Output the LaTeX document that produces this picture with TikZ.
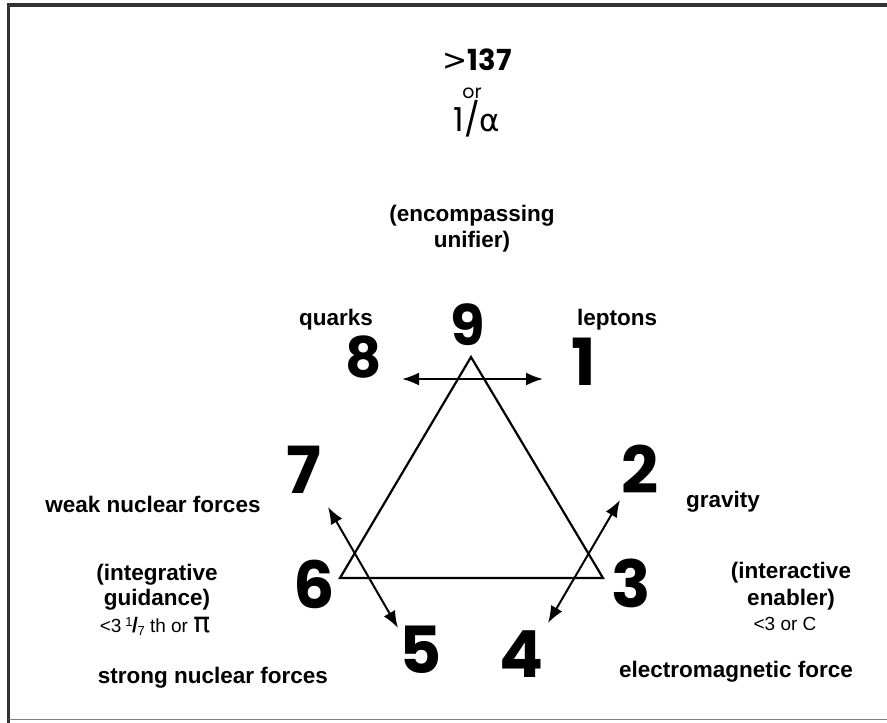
\documentclass[tikz,border=0pt]{standalone}
\usepackage{fontspec}
\setmainfont{Liberation Sans}
\newfontfamily\digfont{Poppins}
\newfontfamily\dvfont{DejaVu Sans}
\usetikzlibrary{arrows.meta}
\tikzset{
  lbl/.style={inner sep=0pt, anchor=base, font=\bfseries\fontsize{22.5}{26}\selectfont},
  small/.style={inner sep=0pt, anchor=base, font=\fontsize{19}{21}\selectfont},
  bigdig/.style={inner sep=0pt, anchor=base, font=\digfont\bfseries\fontsize{65}{65}\selectfont},
  middig/.style={inner sep=0pt, anchor=base, font=\digfont\bfseries\fontsize{56}{56}\selectfont},
  conn/.style={line width=2pt, {Latex[length=17pt,width=13pt]}-{Latex[length=17pt,width=13pt]}},
  tri/.style={line width=2.2pt, line join=miter},
  frameline/.style={line width=3.5pt, color=black!80},
}
\begin{document}
\begin{tikzpicture}[x=1pt,y=-1pt]
\useasboundingbox[fill=white] (0,0) rectangle (887,723);
% frame
\draw[frameline] (8.5,723) -- (8.5,5) -- (887,5);
\draw[gray, line width=1pt] (8.5,719.5) -- (887,719.5);

% top texts
\node[inner sep=0pt, anchor=base, font=\digfont\bfseries\fontsize{29}{29}\selectfont] (t137) at (477,70) {{\dvfont\mdseries\fontsize{30}{30}\selectfont >}137};
\node[inner sep=0pt, anchor=base, font=\digfont\fontsize{19}{19}\selectfont] (tor) at (472,98) {or};
\node[inner sep=0pt, anchor=base, font=\digfont\fontsize{33}{33}\selectfont] (talpha) at (477,131) {1/{\dvfont\fontsize{31}{31}\selectfont α}};

\node[lbl] (enc1) at (472,221) {(encompassing};
\node[lbl] (enc2) at (472,247) {unifier)};

% digits
\node[middig] (d9) at (468,345) {9};
\node[middig] (d8) at (364,377) {8};
\node[bigdig] (d1) at (584,385) {1};
\node[bigdig] (d7) at (304,493) {7};
\node[bigdig] (d2) at (640,493) {2};
\node[bigdig] (d6) at (314,608) {6};
\node[bigdig] (d3) at (631,607) {3};
\node[bigdig] (d5) at (421,673) {5};
\node[bigdig] (d4) at (521,677) {4};

% labels
\node[lbl] (quarks) at (336,325) {quarks};
\node[lbl] (leptons) at (617,325) {leptons};
\node[lbl] (weak) at (153,512) {weak nuclear forces};
\node[lbl] (grav) at (723,507) {gravity};
\node[lbl] (int1) at (157,580) {(integrative};
\node[lbl] (int2) at (157,605) {guidance)};
\node[small] (pi) at (155,632) {<3\kern4pt\raisebox{6pt}{\fontsize{13}{13}\selectfont 1}\kern-0.5pt{\bfseries\fontsize{21}{21}\selectfont /}\kern-0.5pt\raisebox{-3pt}{\fontsize{13}{13}\selectfont 7} th or {\dvfont\fontsize{28}{28}\selectfont π}};
\node[lbl] (strong) at (213,683) {strong nuclear forces};
\node[lbl] (ie1) at (791,578) {(interactive};
\node[lbl] (ie2) at (791,605) {enabler)};
\node[small] (cval) at (785,630) {<3 or C};
\node[lbl] (em) at (736,677) {electromagnetic force};

% triangle
\coordinate (apex) at (471,357);
\coordinate (bl) at (340,578);
\coordinate (br) at (603,578);
\draw[tri] (apex) -- (br) -- (bl) -- cycle;

% connectors
\coordinate (a8) at (402,379);
\coordinate (a1) at (543,379);
\coordinate (a7) at (328,507);
\coordinate (a5) at (398,628);
\coordinate (a2) at (620,500);
\coordinate (a4) at (548,623);
\draw[conn] (a8) -- (a1);
\draw[conn] (a7) -- (a5);
\draw[conn] (a2) -- (a4);
\end{tikzpicture}
\end{document}
